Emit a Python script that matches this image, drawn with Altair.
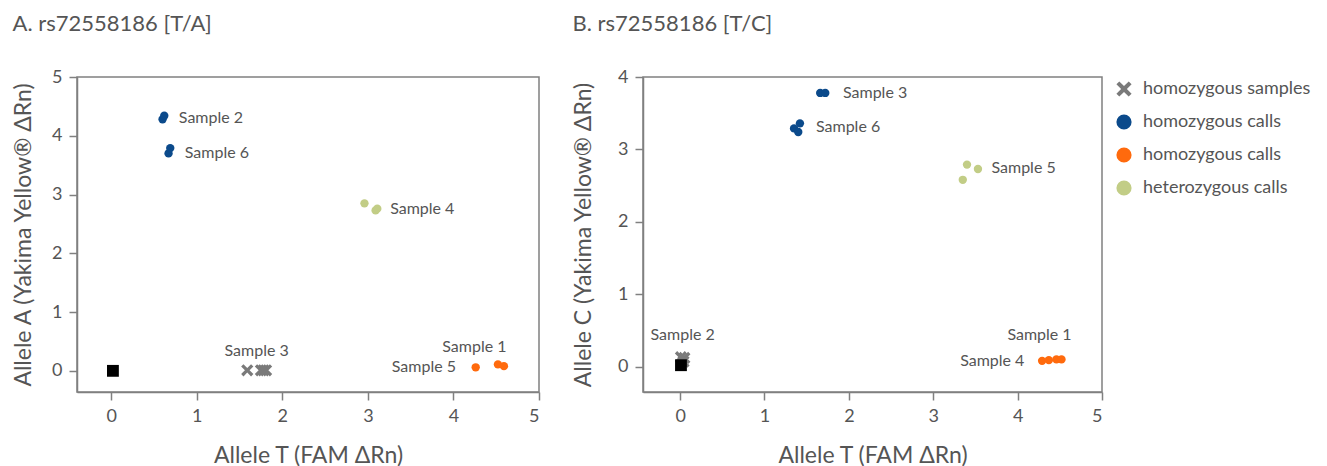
import altair as alt
import pandas as pd

FONT = "Lato"
TXT = "#555555"
LINE = "#808080"

CATS = ["homozygous samples", "homozygous calls 1", "homozygous calls 2", "heterozygous calls"]
COLORS = ["#7a7a7a", "#0b4a8b", "#ff6a0d", "#c2cd86"]
XPATH = "M-1,-0.62L-0.62,-1L0,-0.38L0.62,-1L1,-0.62L0.38,0L1,0.62L0.62,1L0,0.38L-0.62,1L-1,0.62L-0.38,0Z"
SHAPES = [XPATH, "circle", "circle", "circle"]

# ---- Panel A: rs72558186 [T/A]
a_x = [0.60, 0.62, 0.67, 0.69, 2.96, 3.09, 3.11, 1.59, 1.75, 1.78, 1.81, 4.26, 4.52, 4.59]
a_y = [4.28, 4.34, 3.70, 3.79, 2.85, 2.73, 2.76, 0.01, 0.01, 0.01, 0.01, 0.06, 0.11, 0.08]
a_cat = ["homozygous calls 1"] * 4 + ["heterozygous calls"] * 3 + ["homozygous samples"] * 4 + ["homozygous calls 2"] * 3
a_ntc_x = [0.02]
a_ntc_y = [0.0]
a_lab = ["Sample 2", "Sample 6", "Sample 4", "Sample 3", "Sample 1", "Sample 5"]
a_lab_x = [0.79, 0.86, 3.26, 1.70, 4.62, 4.03]
a_lab_y = [4.31, 3.71, 2.76, 0.33, 0.40, 0.06]
a_lab_align = ["left", "left", "left", "center", "right", "right"]

# ---- Panel B: rs72558186 [T/C]
b_x = [1.66, 1.72, 1.42, 1.35, 1.40, 3.40, 3.53, 3.35, 4.29, 4.37, 4.46, 4.52, 0.01, 0.05, 0.04]
b_y = [3.78, 3.78, 3.36, 3.29, 3.24, 2.79, 2.73, 2.58, 0.08, 0.09, 0.10, 0.10, 0.13, 0.12, 0.07]
b_cat = ["homozygous calls 1"] * 5 + ["heterozygous calls"] * 3 + ["homozygous calls 2"] * 4 + ["homozygous samples"] * 3
b_ntc_x = [0.01]
b_ntc_y = [0.02]
b_lab = ["Sample 3", "Sample 6", "Sample 5", "Sample 2", "Sample 1", "Sample 4"]
b_lab_x = [1.93, 1.61, 3.69, 0.03, 4.64, 4.08]
b_lab_y = [3.78, 3.31, 2.75, 0.44, 0.44, 0.08]
b_lab_align = ["left", "left", "left", "center", "right", "right"]

X_TICKS = [0, 1, 2, 3, 4, 5]

LEGEND = alt.Legend(
    title=None, orient="right", offset=8, padding=3,
    labelFontSize=18, labelFont=FONT, labelColor=TXT, labelLimit=400,
    symbolSize=230, symbolStrokeWidth=0, rowPadding=15, labelOffset=10,
    labelExpr="indexof(datum.label, 'homozygous calls') >= 0 ? 'homozygous calls' : datum.label",
)


def panel(px, py, pc, nx, ny, lt, lx, ly, la, title, ytitle, xdom, ydom, yticks, w, h, ypad):
    pts = pd.DataFrame({"x": px, "y": py, "cat": pc})
    ntc = pd.DataFrame({"x": nx, "y": ny})
    lab = pd.DataFrame({"x": lx, "y": ly, "t": lt, "a": la})

    xs = alt.Scale(domain=xdom, nice=False, zero=False)
    ys = alt.Scale(domain=ydom, nice=False, zero=False)
    xenc = alt.X("x:Q", scale=xs, axis=alt.Axis(values=X_TICKS, format="d", title="Allele T (FAM ΔRn)"))
    yenc = alt.Y("y:Q", scale=ys, axis=alt.Axis(values=yticks, format="d", title=ytitle, titlePadding=ypad))
    col = alt.Color("cat:N", scale=alt.Scale(domain=CATS, range=COLORS), legend=LEGEND)
    shp = alt.Shape("cat:N", scale=alt.Scale(domain=CATS, range=SHAPES), legend=LEGEND)

    circles = alt.Chart(pts).transform_filter(alt.datum.cat != "homozygous samples").mark_point(
        filled=True, opacity=1, size=70).encode(x=xenc, y=yenc, color=col, shape=shp)
    crosses = alt.Chart(pts).transform_filter(alt.datum.cat == "homozygous samples").mark_point(
        filled=True, opacity=1, size=150).encode(x="x:Q", y="y:Q", color=col, shape=shp)
    square = alt.Chart(ntc).mark_point(filled=True, opacity=1, shape="square", size=140, color="#000000").encode(
        x="x:Q", y="y:Q"
    )
    layers = [circles, crosses, square]
    for al in ["left", "center", "right"]:
        layers.append(
            alt.Chart(lab).transform_filter(alt.datum.a == al)
            .mark_text(align=al, baseline="middle", font=FONT, fontSize=16, color=TXT)
            .encode(x="x:Q", y="y:Q", text="t:N")
        )
    return alt.layer(*layers).properties(
        width=w, height=h,
        title=alt.TitleParams(title, anchor="start", fontSize=22, font=FONT, color=TXT,
                              fontWeight="normal", offset=32),
    )


left = panel(a_x, a_y, a_cat, a_ntc_x, a_ntc_y, a_lab, a_lab_x, a_lab_y, a_lab_align,
             "A. rs72558186 [T/A]", "Allele A (Yakima Yellow® ΔRn)",
             [-0.4, 5], [-0.36, 5], [0, 1, 2, 3, 4, 5], 462, 315, 16)
right = panel(b_x, b_y, b_cat, b_ntc_x, b_ntc_y, b_lab, b_lab_x, b_lab_y, b_lab_align,
              "B. rs72558186 [T/C]", "Allele C (Yakima Yellow® ΔRn)",
              [-0.44, 5], [-0.35, 4], [0, 1, 2, 3, 4], 459, 315, 22)

chart = alt.hconcat(left, right, spacing=30).configure_view(
    stroke=LINE, strokeWidth=1.5
).configure_axis(
    grid=False, domainColor=LINE, domainWidth=1.5, tickColor=LINE, tickWidth=1.5, tickSize=8,
    labelFont=FONT, labelFontSize=18, labelColor=TXT, labelPadding=7,
    titleFont=FONT, titleFontSize=23, titleColor=TXT, titleFontWeight="normal",
).configure_axisX(titlePadding=19).properties(
    padding={"left": 3, "top": 4, "right": 4, "bottom": 0}
)

chart.save("out.html", embed_options={"renderer": "svg", "actions": False})
